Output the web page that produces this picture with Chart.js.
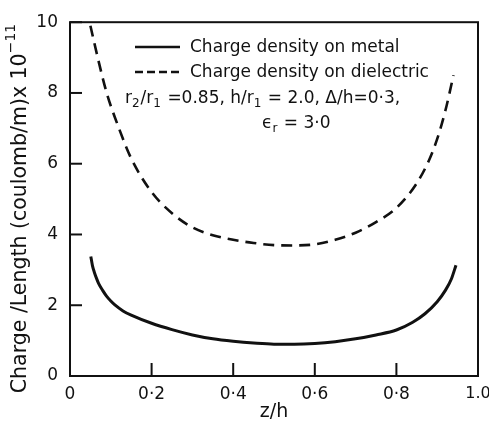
<!DOCTYPE html>
<html>
<head>
<meta charset="utf-8">
<script src="https://cdn.jsdelivr.net/npm/chart.js@4.4.0/dist/chart.umd.min.js"></script>
<style>
  html, body { margin: 0; background: #fff; }
  canvas { display: block; }
</style>
</head>
<body>
<canvas id="chart" width="489" height="423"></canvas>
<script>
/* --- data ------------------------------------------------------------------ */
const zMetal = [0.051, 0.055, 0.06, 0.065, 0.07, 0.08, 0.09, 0.1, 0.11, 0.13, 0.15, 0.2, 0.25, 0.3,
                0.35, 0.4, 0.45, 0.5, 0.55, 0.6, 0.65, 0.7, 0.75, 0.8, 0.84, 0.87, 0.9, 0.92,
                0.935, 0.946];
const qMetal = [3.38, 3.12, 2.92, 2.76, 2.62, 2.42, 2.25, 2.12, 2.01, 1.84, 1.72, 1.49, 1.31, 1.16,
                1.05, 0.98, 0.93, 0.9, 0.9, 0.92, 0.97, 1.05, 1.16, 1.3, 1.52, 1.76, 2.1, 2.42,
                2.75, 3.13];

const zDiel = [0.05, 0.07, 0.09, 0.12, 0.15, 0.2, 0.25, 0.3, 0.35, 0.4, 0.45, 0.5, 0.55,
               0.6, 0.65, 0.7, 0.75, 0.8, 0.85, 0.88, 0.9, 0.92, 0.94];
const qDiel = [9.9, 8.9, 8.0, 7.0, 6.15, 5.2, 4.6, 4.2, 3.98, 3.85, 3.76, 3.7, 3.69,
               3.72, 3.85, 4.05, 4.35, 4.75, 5.45, 6.1, 6.7, 7.5, 8.5];

const xTickLabels = { 0: '0', 0.2: '0·2', 0.4: '0·4', 0.6: '0·6', 0.8: '0·8', 1: '1.0' };
const seriesNames = ['Charge density on metal', 'Charge density on dielectric'];
// [texto, 'sub' | 'sup' | null]
const paramLine1 = [['r', null], ['2', 'sub'], ['/r', null], ['1', 'sub'], [' =0.85, h/r', null],
                    ['1', 'sub'], [' = 2.0, Δ/h=0·3,', null]];
const paramLine2 = [['ϵ', null], ['r', 'sub'], [' = 3·0', null]];
const yTitle = [['Charge /Length (coulomb/m)x 10', null], ['−11', 'sup']];

const INK = '#111';
const FONT = '"DejaVu Sans", sans-serif';

/* --- helpers ------------------------------------------------------------- */
function toPoints(xs, ys) {
    return xs.map((x, i) => ({ x, y: ys[i] }));
}

function richWidth(ctx, parts, size) {
    let w = 0;
    parts.forEach(([t, k]) => {
        ctx.font = (k ? Math.round(size * 0.68) : size) + 'px ' + FONT;
        w += ctx.measureText(t).width + (k ? 1 : 0);
    });
    return w;
}

function drawRich(ctx, parts, x, y, size) {
    parts.forEach(([t, k]) => {
        ctx.font = (k ? Math.round(size * 0.68) : size) + 'px ' + FONT;
        const dy = k === 'sub' ? size * 0.28 : k === 'sup' ? -size * 0.45 : 0;
        ctx.fillText(t, x, y + dy);
        x += ctx.measureText(t).width + (k ? 1 : 0);
    });
}

/* caja, marcas hacia adentro, leyenda y títulos */
const decor = {
    id: 'decor',
    afterDraw(chart) {
        const { ctx, chartArea: a, scales } = chart;
        const xs = scales.x, ys = scales.y;
        ctx.save();
        ctx.strokeStyle = INK;
        ctx.fillStyle = INK;

        // frame
        ctx.lineWidth = 2;
        ctx.strokeRect(a.left, a.top, a.right - a.left, a.bottom - a.top);

        // inward ticks
        ys.ticks.forEach(t => {
            const py = ys.getPixelForValue(t.value);
            ctx.beginPath();
            ctx.moveTo(a.left, py);
            ctx.lineTo(a.left + 12, py);
            ctx.stroke();
        });
        xs.ticks.forEach(t => {
            const px = xs.getPixelForValue(t.value);
            ctx.beginPath();
            ctx.moveTo(px, a.bottom);
            ctx.lineTo(px, a.bottom - 13);
            ctx.stroke();
        });

        // legend
        ctx.font = '17px ' + FONT;
        ctx.textBaseline = 'middle';
        ctx.textAlign = 'left';
        ctx.lineWidth = 2.5;
        ctx.beginPath();
        ctx.moveTo(135, 47);
        ctx.lineTo(180, 47);
        ctx.stroke();
        ctx.fillText(seriesNames[0], 190, 48);

        ctx.setLineDash([8, 4]);
        ctx.beginPath();
        ctx.moveTo(135, 72);
        ctx.lineTo(182, 72);
        ctx.stroke();
        ctx.setLineDash([]);
        ctx.fillText(seriesNames[1], 190, 73);

        drawRich(ctx, paramLine1, 125, 99, 17);
        drawRich(ctx, paramLine2, 262, 124, 17);

        // x title
        ctx.font = '19px ' + FONT;
        ctx.textAlign = 'center';
        ctx.fillText('z/h', (a.left + a.right) / 2, 412);

        // y title
        ctx.textAlign = 'left';
        const total = richWidth(ctx, yTitle, 20.5);
        ctx.translate(21, 208);
        ctx.rotate(-Math.PI / 2);
        drawRich(ctx, yTitle, -total / 2, 0, 20.5);

        ctx.restore();
    }
};

/* --- chart ----------------------------------------------------------------- */
new Chart(document.getElementById('chart'), {
    type: 'line',
    data: {
        datasets: [
            {
                label: seriesNames[0],
                data: toPoints(zMetal, qMetal),
                borderColor: INK,
                borderWidth: 3,
                pointRadius: 0,
                cubicInterpolationMode: 'monotone',
                fill: false
            },
            {
                label: seriesNames[1],
                data: toPoints(zDiel, qDiel),
                borderColor: INK,
                borderWidth: 2.6,
                borderDash: [11, 7],
                pointRadius: 0,
                cubicInterpolationMode: 'monotone',
                fill: false
            }
        ]
    },
    options: {
        responsive: false,
        animation: false,
        devicePixelRatio: 1,
        layout: { padding: { top: 18, right: 11, left: 0, bottom: 0 } },
        plugins: { legend: { display: false }, tooltip: { enabled: false } },
        scales: {
            x: {
                type: 'linear',
                min: 0,
                max: 1,
                grid: { display: false, drawTicks: false },
                border: { display: false },
                afterFit: s => { s.height = 47; s.paddingLeft = 0; s.paddingRight = 0; },
                ticks: {
                    stepSize: 0.2,
                    padding: 8,
                    color: INK,
                    font: c => ({ family: FONT, size: c.tick && c.tick.value === 1 ? 16 : 17 }),
                    maxRotation: 0,
                    callback: v => xTickLabels[Math.round(v * 10) / 10]
                }
            },
            y: {
                min: 0,
                max: 10,
                grid: { display: false, drawTicks: false },
                border: { display: false },
                afterFit: s => { s.width = 70; },
                ticks: {
                    stepSize: 2,
                    padding: 12,
                    color: INK,
                    font: { family: FONT, size: 17 }
                }
            }
        }
    },
    plugins: [decor]
});
</script>
</body>
</html>
